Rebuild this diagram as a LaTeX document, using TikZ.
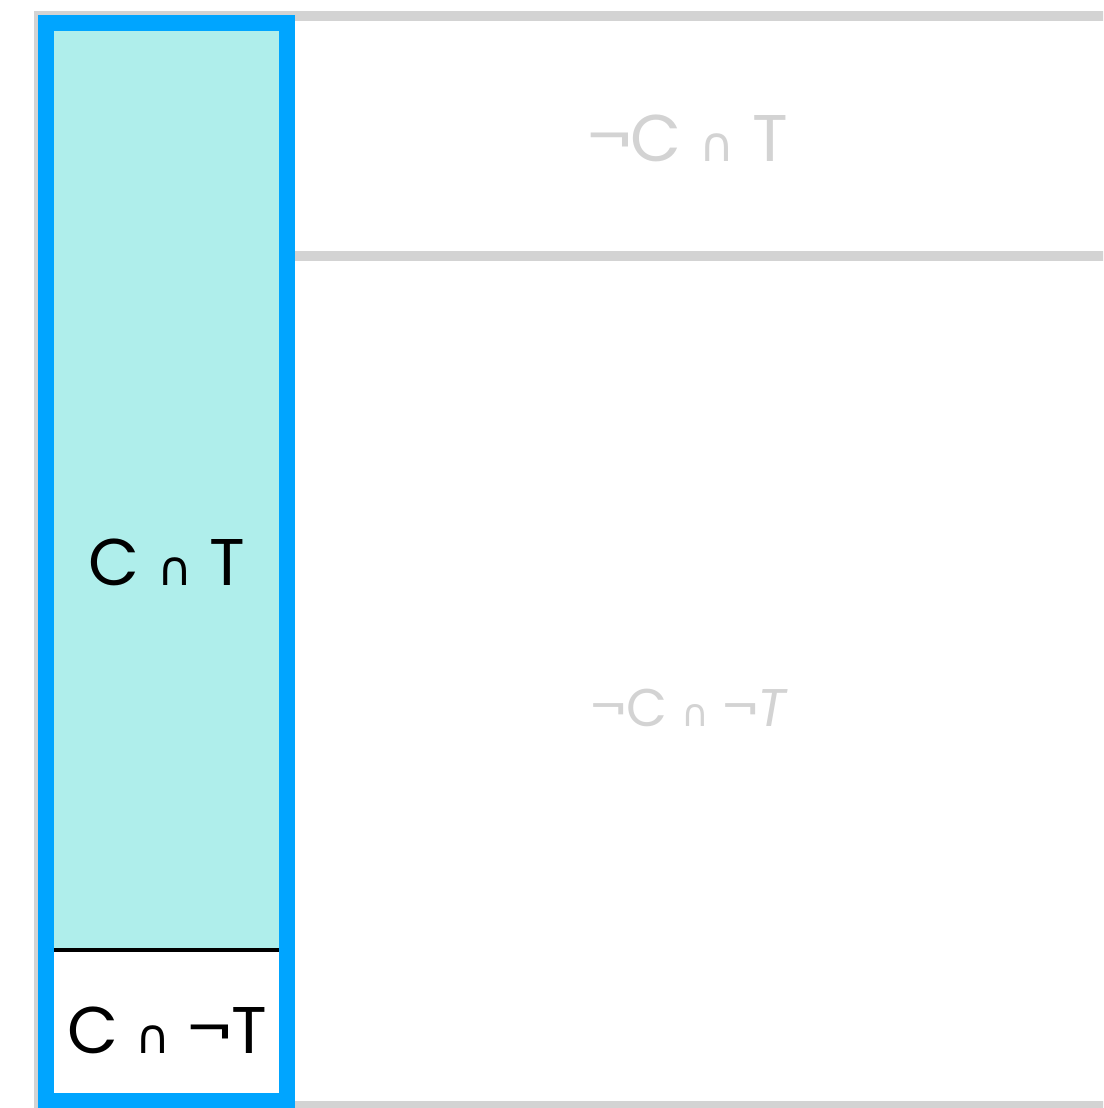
\documentclass[tikz,border=0pt]{standalone}
\usepackage{fontspec}
\setmainfont{Poppins}
\newfontfamily\symfont{DejaVu Sans}
\definecolor{framegray}{HTML}{D3D3D3}
\definecolor{cellfill}{HTML}{AFEEEB}
\definecolor{selblue}{HTML}{00A5FF}
\newcommand{\capsym}{{\symfont\fontsize{48}{48}\selectfont ∩}}
\begin{document}
\begin{tikzpicture}[x=1pt,y=-1pt,
  grayline/.style={draw=framegray, line width=10pt},
  biglabel/.style={font=\fontsize{66}{66}\selectfont, anchor=center, inner sep=0pt},
  smalllabel/.style={font=\fontsize{53}{53}\selectfont, anchor=center, inner sep=0pt, text=framegray}]
\useasboundingbox (0,0) rectangle (1103,1108);
\clip (0,0) rectangle (1103,1108);
\fill[white] (0,0) rectangle (1103,1108);
% outer gray frame and divider
\draw[grayline] (39,16) rectangle (1130,1106);
\coordinate (divL) at (295,256);
\coordinate (divR) at (1110,256);
\draw[grayline] (divL) -- (divR);
% selected column
\fill[cellfill] (46,23) rectangle (287,950);
\coordinate (sepL) at (40,950);
\coordinate (sepR) at (295,950);
\draw[black, line width=4pt] (sepL) -- (sepR);
\draw[selblue, line width=16pt] (46,23) rectangle (287,1101);
% labels
\node[biglabel] (ct) at (167,562) {C \capsym{} T};
\node[biglabel] (cnt) at (167,1030) {C \capsym{} ¬T};
\node[biglabel, text=framegray] (nct) at (688,138) {¬C \capsym{} T};
\node[smalllabel] (ncnt) at (690,708) {¬C {\symfont\fontsize{38}{38}\selectfont ∩} ¬\textit{T}};
\end{tikzpicture}
\end{document}
